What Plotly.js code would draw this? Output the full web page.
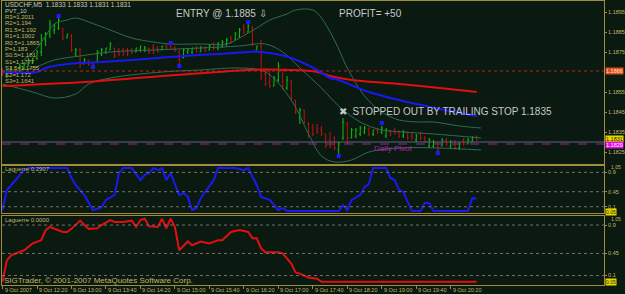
<!DOCTYPE html>
<html><head><meta charset="utf-8">
<script src="https://cdn.plot.ly/plotly-3.0.1.min.js"></script>
<style>html,body{margin:0;padding:0;background:#0a1a10;}#c{width:625px;height:294px;}</style>
</head><body><div id="c"></div>
<script>
// ---- price bars (USDCHF M5, bar index 0 = 9 Oct 11:40) ----
const barIdx = Array.from({length:111},(_,i)=>i);
const open = [1.1866,1.1863,1.1865,1.1867,1.1865,1.1867,1.1869,1.1870,1.1872,1.1875,
1.1881,1.1884,1.1886,1.1887,1.1887,1.1882,1.1883,1.1874,1.1876,1.1869,
1.1871,1.1869,1.1870,1.1874,1.1875,1.1876,1.1877,1.1876,1.1876,1.1876,
1.1876,1.1875,1.1876,1.1876,1.1877,1.1877,1.1877,1.1876,1.1878,1.1879,
1.1877,1.1875,1.1872,1.1875,1.1875,1.1877,1.1875,1.1877,1.1876,1.1879,
1.1877,1.1878,1.1879,1.1882,1.1881,1.1883,1.1887,1.1885,1.1887,1.1876,
1.1878,1.1864,1.1860,1.1858,1.1861,1.1866,1.1857,1.1860,1.1851,1.1842,
1.1846,1.1839,1.1837,1.1837,1.1836,1.1834,1.1831,1.1832,1.1826,1.1832,
1.1839,1.1832,1.1833,1.1834,1.1835,1.1837,1.1834,1.1836,1.1835,1.1833,
1.1836,1.1836,1.1835,1.1833,1.1835,1.1833,1.1831,1.1834,1.1832,1.1828,
1.1828,1.1830,1.1828,1.1831,1.1828,1.1830,1.1827,1.1831,1.1829,1.1830,
1.1833];
const high = [1.1867,1.1866,1.1868,1.1867,1.1869,1.1870,1.1872,1.1872,1.1876,1.1884,
1.1885,1.1891,1.1889,1.1893,1.1887,1.1884,1.1884,1.1877,1.1877,1.1872,
1.1871,1.1870,1.1876,1.1877,1.1877,1.1880,1.1877,1.1877,1.1877,1.1877,
1.1877,1.1877,1.1878,1.1878,1.1877,1.1879,1.1878,1.1878,1.1879,1.1879,
1.1878,1.1876,1.1877,1.1877,1.1877,1.1878,1.1878,1.1878,1.1879,1.1880,
1.1880,1.1881,1.1882,1.1883,1.1885,1.1887,1.1889,1.1890,1.1888,1.1878,
1.1881,1.1867,1.1866,1.1863,1.1870,1.1866,1.1863,1.1861,1.1851,1.1847,
1.1846,1.1840,1.1839,1.1839,1.1838,1.1834,1.1835,1.1833,1.1830,1.1842,
1.1840,1.1837,1.1837,1.1838,1.1838,1.1837,1.1836,1.1837,1.1838,1.1837,
1.1836,1.1837,1.1836,1.1836,1.1835,1.1835,1.1834,1.1835,1.1833,1.1832,
1.1831,1.1830,1.1832,1.1832,1.1831,1.1831,1.1830,1.1832,1.1832,1.1833,
1.1833];
const low = [1.1863,1.1862,1.1864,1.1863,1.1865,1.1866,1.1868,1.1869,1.1871,1.1873,
1.1878,1.1882,1.1884,1.1886,1.1881,1.1882,1.1875,1.1873,1.1867,1.1869,
1.1868,1.1867,1.1870,1.1873,1.1874,1.1876,1.1872,1.1873,1.1873,1.1873,
1.1874,1.1875,1.1875,1.1875,1.1874,1.1874,1.1875,1.1876,1.1876,1.1877,
1.1875,1.1869,1.1872,1.1874,1.1874,1.1875,1.1875,1.1875,1.1876,1.1876,
1.1876,1.1877,1.1878,1.1879,1.1881,1.1882,1.1884,1.1885,1.1878,1.1876,
1.1861,1.1858,1.1857,1.1858,1.1860,1.1856,1.1856,1.1851,1.1844,1.1839,
1.1839,1.1832,1.1833,1.1834,1.1833,1.1827,1.1827,1.1826,1.1824,1.1831,
1.1829,1.1832,1.1832,1.1833,1.1834,1.1833,1.1833,1.1834,1.1834,1.1832,
1.1833,1.1834,1.1832,1.1832,1.1831,1.1831,1.1830,1.1831,1.1830,1.1827,
1.1827,1.1825,1.1828,1.1828,1.1827,1.1826,1.1826,1.1828,1.1829,1.1830,
1.1831];
const close = [1.1864,1.1865,1.1867,1.1864,1.1868,1.1869,1.1871,1.1872,1.1875,1.1882,
1.1884,1.1889,1.1888,1.1891,1.1882,1.1884,1.1876,1.1876,1.1869,1.1871,
1.1869,1.1868,1.1875,1.1876,1.1877,1.1879,1.1873,1.1874,1.1874,1.1874,
1.1875,1.1877,1.1878,1.1877,1.1875,1.1875,1.1875,1.1878,1.1877,1.1877,
1.1876,1.1871,1.1876,1.1876,1.1877,1.1875,1.1877,1.1876,1.1878,1.1877,
1.1879,1.1880,1.1881,1.1880,1.1884,1.1886,1.1885,1.1888,1.1879,1.1878,
1.1863,1.1859,1.1858,1.1862,1.1868,1.1858,1.1861,1.1852,1.1845,1.1846,
1.1840,1.1833,1.1834,1.1835,1.1834,1.1828,1.1828,1.1827,1.1829,1.1840,
1.1832,1.1836,1.1836,1.1837,1.1837,1.1834,1.1836,1.1835,1.1837,1.1836,
1.1834,1.1834,1.1833,1.1835,1.1832,1.1832,1.1833,1.1832,1.1830,1.1831,
1.1830,1.1826,1.1831,1.1829,1.1830,1.1827,1.1829,1.1829,1.1831,1.1832,
1.1831];

// ---- Bollinger bands (read at selected bars) ----
const bbUpX = [5,8,10,12,15,17,20,25,30,35,39,46,52,55,59,62,66,68,72,74,77,80,84,88,92,97,100,106,111];
const bbUp  = [1.1871,1.1877,1.1883,1.1889,1.1891,1.1892,1.1890,1.1886,1.1882,1.1880,1.1879,1.1879,1.1879,1.1882,1.1887,1.1891,1.1894,1.1896,1.1896,1.1892,1.1881,1.1867,1.1853,1.1845,1.1841,1.1840,1.1840,1.1838,1.1837];
const bbMidX = [0,7,12,18,25,35,46,55,61,65,69,74,78,83,88,93,100,111];
const bbMid  = [1.1865,1.1867,1.1871,1.1873,1.1875,1.1876,1.1877,1.1878,1.1879,1.1875,1.1867,1.1857,1.1848,1.1840,1.1836,1.1835,1.1834,1.1832];
const bbLoX = [0,7,12,17,20,25,37,46,55,61,67,71,74,77,81,85,92,101,111];
const bbLo  = [1.1859,1.1855,1.1852,1.1854,1.1859,1.1862,1.1865,1.1866,1.1867,1.1865,1.1851,1.1834,1.1823,1.1820,1.1821,1.1825,1.1827,1.1827,1.1826];

// ---- moving averages ----
const maBlueX = [0,8,10,15,23,36,42,50,57,60,67,73,76,78,85,96,110];
const maBlue  = [1.1865,1.1865,1.1867,1.1869,1.1870,1.1872,1.1873,1.1874,1.1875,1.1875,1.1872,1.1866,1.1862,1.1861,1.1855,1.1849,1.1843];
const maRedX = [0,19,37,50,57,67,73,76,81,92,110];
const maRed  = [1.1858,1.1860,1.1863,1.1865,1.1866,1.1866,1.1865,1.1863,1.1861,1.1859,1.1855];

// ---- fractals ----
const fracX = [13,21,39,41,57,78,88,101];
const fracY = [1.1893,1.18675,1.18795,1.1868,1.1890,1.1823,1.18395,1.18245];

// ---- Laguerre 1 (blue) ----
const lag1X = [0,1,2,4,5,6,15,16,17,19,21,23,24,26,27,28,30,32,33,34,35,36,37,38,39,41,42,43,44,45,46,47,49,50,54,56,57,59,60,62,64,65,66,78,79,80,81,83,84,85,86,89,90,91,92,93,95,97,98,99,100,108,109,110];
const lag1  = [0.02,0.49,0.60,0.84,0.95,1.0,1.0,0.77,0.60,0.37,0.02,0.09,0.26,0.37,0.88,1.0,1.0,0.72,0.84,0.88,1.0,0.95,1.0,0.72,0.88,0.37,0.42,0.33,0.02,0.07,0.30,0.44,0.72,1.0,1.0,0.95,1.0,0.60,0.33,0.26,0.02,0.07,0.0,0.0,0.14,0.02,0.26,0.37,0.56,0.63,1.0,1.0,0.77,0.72,0.49,0.44,0.0,0.0,0.19,0.19,0.0,0.0,0.30,0.29];
// ---- Laguerre 2 (red) ----
const lag2X = [0,1,2,5,7,9,10,11,14,15,16,18,19,20,22,23,25,26,28,30,31,32,33,34,36,37,38,39,40,41,43,44,46,48,50,51,53,55,57,58,59,60,61,64,65,67,68,69,71,73,74,110];
const lag2  = [0.0,0.34,0.42,0.50,0.61,0.66,0.82,0.87,0.79,0.79,0.84,0.97,0.90,0.84,0.85,0.90,0.98,0.95,0.95,0.97,0.87,0.98,1.0,0.88,0.87,1.0,0.85,1.0,0.87,0.50,0.64,0.58,0.64,0.61,0.66,0.66,0.79,0.82,0.79,0.69,0.69,0.53,0.47,0.47,0.45,0.29,0.15,0.13,0.07,0.05,0.0,0.0];

// ---- axis labels ----
const xTickIdx = [0,8,16,24,32,40,48,56,64,72,80,88,96,104];
const xTickTxt = ["9 Oct 2007","9 Oct 12:20","9 Oct 13:00","9 Oct 13:40","9 Oct 14:20","9 Oct 15:00","9 Oct 15:40","9 Oct 16:20","9 Oct 17:00","9 Oct 17:40","9 Oct 18:20","9 Oct 19:00","9 Oct 19:40","9 Oct 20:20"];
const yTickMain = [1.1895,1.1885,1.1875,1.1855,1.1845,1.1835,1.1825];
const lagLevels = [0.9,0.45,0.1];
const pivotLabels = ["R3=1.2011","R2=1.194","R1.5=1.192","R1=1.1902","R0.5=1.1865","P=1.183","S0.5=1.181","S1=1.1777","S1.5=1.1755","S2=1.172","S3=1.1641"];
const priceLine = 1.18655, bidLine = 1.1830, pivotLine = 1.1829;

// ---- layout helpers (pixel -> paper) ----
const PL=2, PR=604, PT=1, PB=285;
const px = x => (x-PL)/(PR-PL);
const py = y => (PB-y)/(PB-PT);

const BG='#0a1a10', GOLD='#a08c3c', TXT='#c4b46a', BAND='#2e6c56';
const FONT='Liberation Sans, Arial, sans-serif';
const SMALL=5.5;

const traces = [
 {type:'scatter',mode:'lines',x:bbUpX,y:bbUp,line:{color:BAND,width:1,shape:'spline'},xaxis:'x',yaxis:'y',hoverinfo:'skip'},
 {type:'scatter',mode:'lines',x:bbMidX,y:bbMid,line:{color:BAND,width:1,shape:'spline'},xaxis:'x',yaxis:'y',hoverinfo:'skip'},
 {type:'scatter',mode:'lines',x:bbLoX,y:bbLo,line:{color:BAND,width:1,shape:'spline'},xaxis:'x',yaxis:'y',hoverinfo:'skip'},
 {type:'scatter',mode:'lines',x:maRedX,y:maRed,line:{color:'#e01010',width:2,shape:'spline'},xaxis:'x',yaxis:'y'},
 {type:'scatter',mode:'lines',x:maBlueX,y:maBlue,line:{color:'#1818f0',width:2,shape:'spline'},xaxis:'x',yaxis:'y'},
 {type:'ohlc',x:barIdx,open:open,high:high,low:low,close:close,tickwidth:0.28,
  increasing:{line:{color:'#10c010',width:1}},decreasing:{line:{color:'#c01010',width:1}},xaxis:'x',yaxis:'y'},
 {type:'scatter',mode:'markers',x:fracX,y:fracY,marker:{symbol:'square',size:4,color:'#1a1aff'},xaxis:'x',yaxis:'y'},
 {type:'scatter',mode:'lines',x:lag1X,y:lag1,line:{color:'#1a1af0',width:2},xaxis:'x2',yaxis:'y2'},
 {type:'scatter',mode:'lines',x:lag2X,y:lag2,line:{color:'#e01010',width:2},xaxis:'x3',yaxis:'y3'}
];

const ann = [];
const A = (text,x,y,o={}) => ann.push(Object.assign({text:text,xref:'paper',yref:'paper',x:px(x),y:py(y),xanchor:'left',yanchor:'middle',showarrow:false,font:{family:FONT,size:SMALL,color:TXT}},o));
A('USDCHF,M5  1.1833 1.1833 1.1831 1.1831',3,5,{font:{family:FONT,size:6.5,color:'#c8c8b8'}});
A('PVT_10',3,11,{font:{family:FONT,size:6,color:'#c8c8b8'}});
const pivY=[17,23,30,36,43,49,55,62,68,75,81];
pivotLabels.forEach((t,i)=>A(t,3,pivY[i],{font:{family:FONT,size:6,color:TXT}}));
A('ENTRY @ 1.1885 ⇩',174,13,{font:{family:FONT,size:10,color:'#c8c8c8'}});
A('PROFIT= +50',337,13,{font:{family:FONT,size:10,color:'#c8c8c8'}});
A('✖  STOPPED OUT BY TRAILING STOP 1.1835',337,111,{font:{family:FONT,size:10,color:'#c8c8c8'}});
A('Daily Pivot',372,148,{font:{family:FONT,size:8,color:'#b020b0'}});
A('Laguerre 0.2907',3,169,{font:{family:FONT,size:6,color:TXT}});
A('Laguerre 0.0000',3,220,{font:{family:FONT,size:6,color:TXT}});
A('SIGTrader, © 2001-2007 MetaQuotes Software Corp.',2,280,{font:{family:FONT,size:8,color:TXT}});
// right-hand price boxes
A('1.1866',605,71,{bgcolor:'#d8501c',font:{family:FONT,size:SMALL,color:'#ffe8d0'},borderpad:0});
A('1.1831',605,139,{bgcolor:'#e8d800',font:{family:FONT,size:SMALL,color:'#202000'},borderpad:0});
A('1.1829',605,145,{bgcolor:'#e010e0',font:{family:FONT,size:SMALL,color:'#ffffff'},borderpad:0});
A('1.05',609,166.8,{font:{family:FONT,size:5,color:TXT}});
A('0.05',605,212.3,{bgcolor:'#e8d800',font:{family:FONT,size:5,color:'#202000'},borderpad:0});
A('1.05',609,218.5,{font:{family:FONT,size:5,color:TXT}});
A('0.05',605,282,{bgcolor:'#e8d800',font:{family:FONT,size:5,color:'#202000'},borderpad:0});
// x labels, left-aligned after the tick
xTickIdx.forEach((v,i)=>ann.push({text:xTickTxt[i],xref:'x3',yref:'paper',x:v,y:py(290),xanchor:'left',yanchor:'middle',showarrow:false,font:{family:FONT,size:SMALL,color:TXT}}));

const shapes = [
 {type:'line',xref:'paper',yref:'y',x0:0,x1:1,y0:priceLine,y1:priceLine,line:{color:'#c02020',width:1,dash:'dot'}},
 {type:'line',xref:'paper',yref:'y',x0:0,x1:1,y0:bidLine,y1:bidLine,line:{color:'#5a6878',width:1}},
 {type:'line',xref:'paper',yref:'y',x0:0,x1:1,y0:pivotLine,y1:pivotLine,line:{color:'#a020a0',width:1,dash:'dash'}}
];
lagLevels.forEach(v=>{
 shapes.push({type:'line',xref:'paper',yref:'y2',x0:0,x1:1,y0:v,y1:v,line:{color:'#7a6e6e',width:1,dash:'dot'}});
 shapes.push({type:'line',xref:'paper',yref:'y3',x0:0,x1:1,y0:v,y1:v,line:{color:'#7a6e6e',width:1,dash:'dot'}});
});

const xbase = {range:[-0.12,139.56],showgrid:false,zeroline:false,showline:true,mirror:true,linecolor:GOLD,linewidth:1,
  showticklabels:false,ticks:'',rangeslider:{visible:false},fixedrange:true};
const ybase = {side:'right',showgrid:false,zeroline:false,showline:true,mirror:true,linecolor:GOLD,linewidth:1,
  ticks:'outside',ticklen:2,tickcolor:GOLD,tickfont:{family:FONT,size:SMALL,color:TXT},fixedrange:true};

const layout = {
 width:625,height:294,margin:{l:PL,r:625-PR,t:PT,b:294-PB,pad:0},
 paper_bgcolor:BG,plot_bgcolor:BG,showlegend:false,
 xaxis:Object.assign({},xbase,{domain:[0,1],anchor:'y'}),
 xaxis2:Object.assign({},xbase,{domain:[0,1],anchor:'y2',matches:'x'}),
 xaxis3:Object.assign({},xbase,{domain:[0,1],anchor:'y3',matches:'x',ticks:'outside',ticklen:3,tickcolor:GOLD,tickvals:xTickIdx}),
 yaxis:Object.assign({},ybase,{domain:[py(164),1],range:[1.1819,1.19005],tickvals:yTickMain,tickformat:'.4f'}),
 yaxis2:Object.assign({},ybase,{domain:[py(213.2),py(165.9)],range:[-0.05,1.05],tickvals:lagLevels,ticktext:['0.9','0.45','0.1']}),
 yaxis3:Object.assign({},ybase,{domain:[0,py(215.6)],range:[-0.05,1.05],tickvals:lagLevels,ticktext:['0.9','0.45','0.1']}),
 annotations:ann,shapes:shapes
};
Plotly.newPlot('c',traces,layout,{displayModeBar:false,staticPlot:true});
</script></body></html>
